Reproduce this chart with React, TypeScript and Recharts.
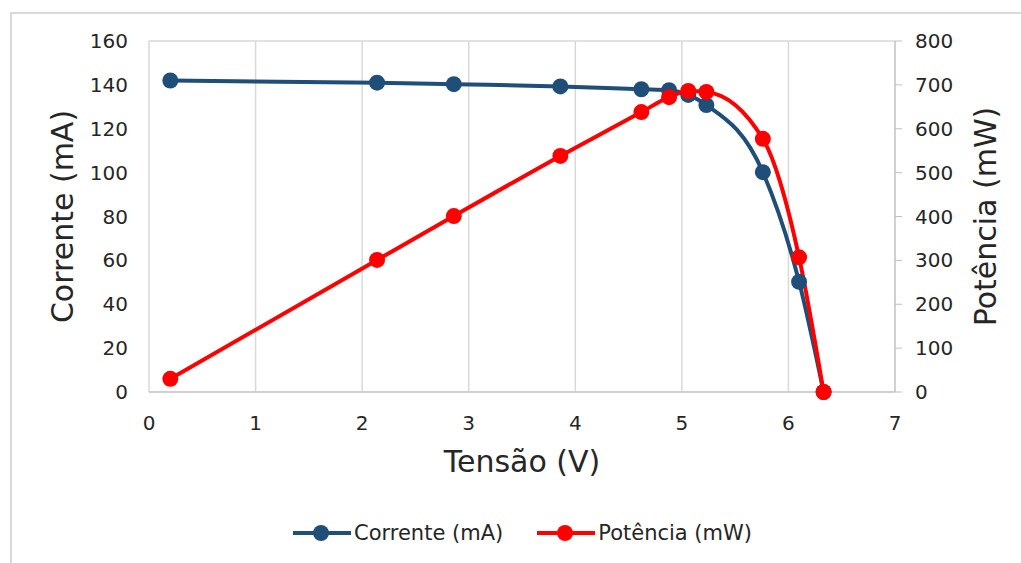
import React from 'react'
import {
  LineChart,
  Line,
  XAxis,
  YAxis,
  CartesianGrid,
  Legend,
} from 'recharts'

const tensao = [0.2, 2.14, 2.86, 3.86, 4.62, 4.88, 5.06, 5.23, 5.76, 6.1, 6.33]
const corrente = [142, 141, 140.3, 139.3, 138, 137.6, 135.4, 130.8, 100.2, 50.2, 0]
const potencia = [30, 301, 401, 538, 638, 672, 686, 684, 577, 307, 0]

const xTicks = [0, 1, 2, 3, 4, 5, 6, 7]
const correnteTicks = [0, 20, 40, 60, 80, 100, 120, 140, 160]
const potenciaTicks = [0, 100, 200, 300, 400, 500, 600, 700, 800]

const data = tensao.map((v, i) => ({ v, i: corrente[i], p: potencia[i] }))

const BLUE = '#1F4E79'
const RED = '#FF0000'
const FONT = '"DejaVu Sans", sans-serif'
const tickStyle = { fontSize: 20, fill: '#262626', fontFamily: FONT }

const LegendItem = ({ color, text }: { color: string; text: string }) => (
  <div style={{ display: 'flex', alignItems: 'center', marginRight: 34 }}>
    <svg width={58} height={20}>
      <line x1={0} y1={10} x2={58} y2={10} stroke={color} strokeWidth={4} />
      <circle cx={28} cy={10} r={8} fill={color} />
    </svg>
    <span style={{ marginLeft: 3, fontSize: 21, fontFamily: FONT, color: '#262626' }}>{text}</span>
  </div>
)

const renderLegend = () => (
  <div style={{ display: 'flex', height: 30, alignItems: 'center', paddingLeft: 244 }}>
    <LegendItem color={BLUE} text="Corrente (mA)" />
    <LegendItem color={RED} text="Potência (mW)" />
  </div>
)

const App = () => {
  return (
    <div style={{ position: 'absolute', left: 0, top: 0, width: 1021, height: 563, background: '#fff', overflow: 'hidden' }}>
      <div style={{ position: 'absolute', left: 10, top: 12, width: 1100, height: 600, borderTop: '2px solid #d9d9d9', borderLeft: '2px solid #d9d9d9' }} />
      <LineChart
        width={1021}
        height={563}
        data={data}
        margin={{ top: 41, right: 10, left: 49, bottom: 15 }}
        style={{ position: 'absolute', left: 0, top: 0 }}
      >
        <CartesianGrid stroke="#d9d9d9" strokeWidth={1.5} verticalPoints={undefined} />
        <XAxis
          dataKey="v"
          type="number"
          domain={[0, 7]}
          ticks={xTicks}
          tickLine={false}
          tickMargin={18}
          height={126}
          stroke="#bfbfbf"
          tick={tickStyle}
          label={{ value: 'Tensão (V)', position: 'insideTop', offset: 59, style: { fontSize: 30, fill: '#262626', fontFamily: FONT } }}
        />
        <YAxis
          yAxisId="left"
          domain={[0, 160]}
          ticks={correnteTicks}
          tickLine={false}
          axisLine={false}
          tickMargin={15}
          width={100}
          tick={tickStyle}
          label={{ value: 'Corrente (mA)', angle: -90, position: 'insideLeft', offset: 13, style: { fontSize: 30, fill: '#262626', fontFamily: FONT, textAnchor: 'middle' } }}
        />
        <YAxis
          yAxisId="right"
          orientation="right"
          domain={[0, 800]}
          ticks={potenciaTicks}
          stroke="#bfbfbf"
          tickSize={7}
          tickMargin={13}
          width={116}
          tick={tickStyle}
          label={{ value: 'Potência (mW)', angle: -90, position: 'insideRight', offset: 26, style: { fontSize: 30, fill: '#262626', fontFamily: FONT, textAnchor: 'middle' } }}
        />
        <Legend verticalAlign="bottom" content={renderLegend} />
        <Line
          yAxisId="left"
          type="monotone"
          dataKey="i"
          stroke={BLUE}
          strokeWidth={4}
          dot={{ r: 8, fill: BLUE, stroke: BLUE, strokeWidth: 0 }}
          isAnimationActive={false}
        />
        <Line
          yAxisId="right"
          type="monotone"
          dataKey="p"
          stroke={RED}
          strokeWidth={4}
          dot={{ r: 8, fill: RED, stroke: RED, strokeWidth: 0 }}
          isAnimationActive={false}
        />
      </LineChart>
    </div>
  )
}

export default App
